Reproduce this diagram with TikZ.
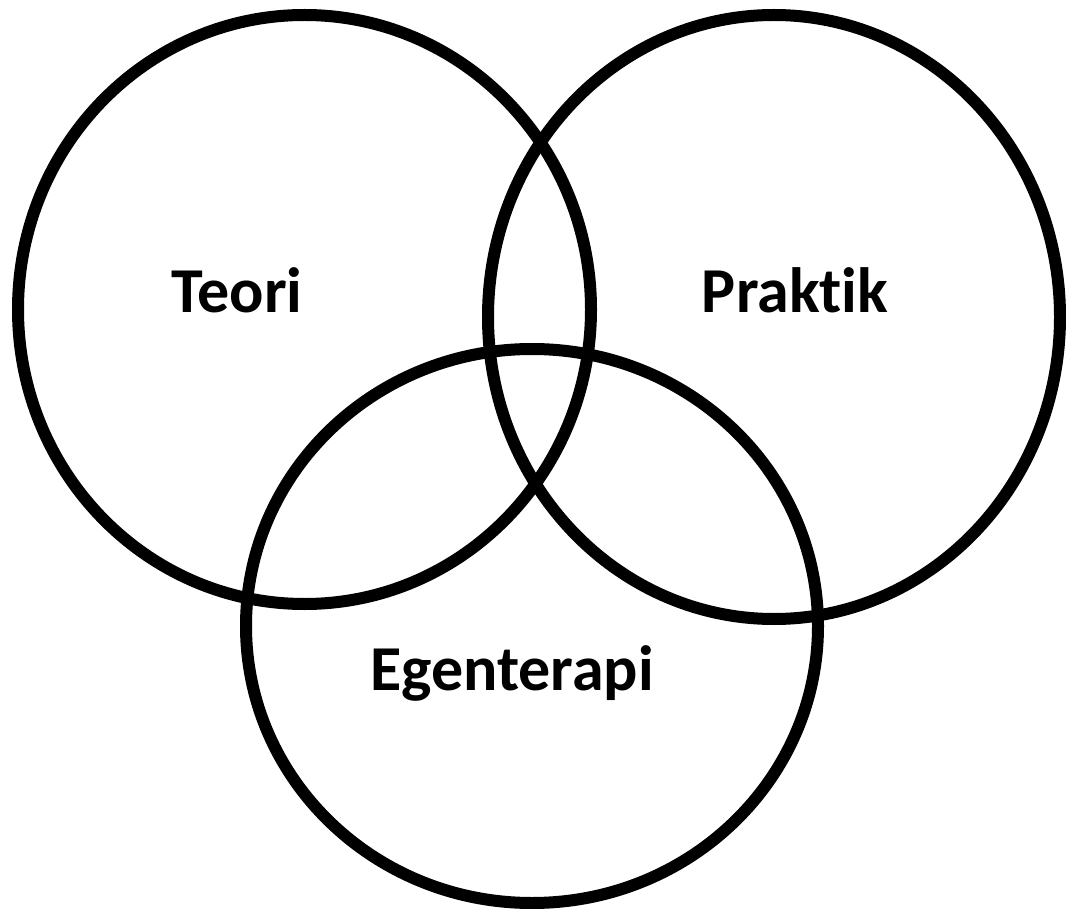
\documentclass[tikz,border=0pt]{standalone}
\usepackage{fontspec}
\setmainfont[Ligatures=NoCommon]{Carlito}
\begin{document}
\begin{tikzpicture}[x=1pt,y=-1pt,
  ring/.style={draw=black,line width=12pt},
  lab/.style={font=\fontsize{64}{66}\selectfont\bfseries,anchor=base,inner sep=0pt}]
\useasboundingbox (0,0) rectangle (1066,909);
\draw[ring] (304.5,309.5) ellipse [x radius=286.5, y radius=294.5];
\draw[ring] (774,317) ellipse [x radius=286, y radius=302];
\draw[ring] (532,626) ellipse [x radius=286, y radius=277];
\node[lab] (teori) at (237,313) {Teori};
\node[lab] (praktik) at (795,313) {Praktik};
\node[lab] (ego) at (512,690) {Egenterapi};
\end{tikzpicture}
\end{document}
